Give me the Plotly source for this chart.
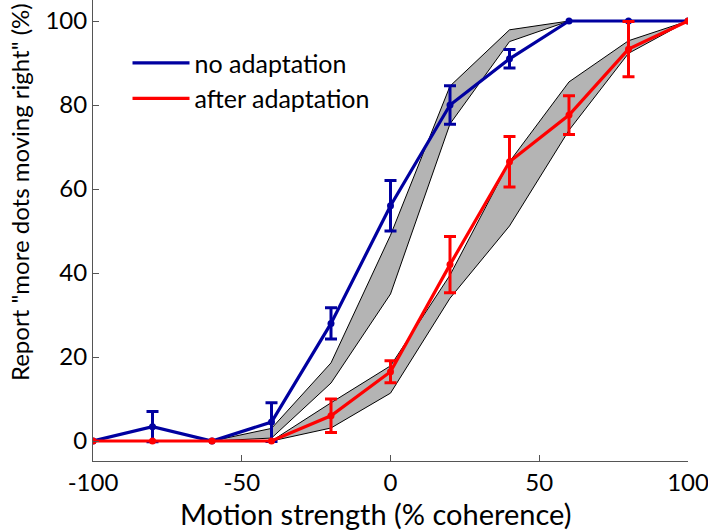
import plotly.graph_objects as go

# ---- data ----
coherence = [-100, -80, -60, -40, -20, 0, 20, 40, 60, 80, 100]

no_adapt = [0, 3.4, 0, 4.5, 28, 56, 80, 91, 100, 100, 100]
no_adapt_err = [0, 3.6, 0, 4.6, 3.7, 6.0, 4.6, 2.2, 0, 0, 0]

after_adapt = [0, 0, 0, 0, 6, 16.5, 42, 66.5, 77.6, 93.3, 100]
after_adapt_err = [0, 0, 0, 0, 4.0, 2.6, 6.7, 6.0, 4.6, 6.6, 0]

band1_upper = [0, 0, 0, 3.0, 18.6, 49, 84.5, 97.9, 100, 100, 100]
band1_lower = [0, 0, 0, 0.7, 13.8, 35, 75.5, 95.1, 100, 100, 100]

band2_upper = [0, 0, 0, 0, 9.1, 17.9, 39.5, 66.5, 85.5, 95.3, 100]
band2_lower = [0, 0, 0, 0, 3.1, 11.4, 34.0, 51.2, 74.0, 92.3, 100]

x_ticks = [-100, -50, 0, 50, 100]
x_tick_text = ["-100", "-50", "0", "50", "100"]
y_ticks = [0, 20, 40, 60, 80, 100]
y_tick_text = ["0", "20", "40", "60", "80", "100"]

BLUE = "#0000A0"
RED = "#FF0000"
GRAY = "#B4B4B4"
FONT = "Lato"

fig = go.Figure()

for up, lo in [(band1_upper, band1_lower), (band2_upper, band2_lower)]:
    fig.add_trace(go.Scatter(
        x=coherence + coherence[::-1], y=up + lo[::-1],
        fill="toself", fillcolor=GRAY, mode="lines",
        line=dict(color="black", width=1), showlegend=False, hoverinfo="skip"))

for name, ys, errs, col in [("no adaptation", no_adapt, no_adapt_err, BLUE),
                            ("after adaptation", after_adapt, after_adapt_err, RED)]:
    fig.add_trace(go.Scatter(x=coherence, y=ys, mode="lines", name=name,
                             line=dict(color=col, width=3.2)))
    fig.add_trace(go.Scatter(x=coherence, y=ys, mode="markers", showlegend=False,
                             marker=dict(color=col, size=7)))
    ex = [c for c, e in zip(coherence, errs) if e > 0]
    ey = [v for v, e in zip(ys, errs) if e > 0]
    ee = [e for e in errs if e > 0]
    fig.add_trace(go.Scatter(x=ex, y=ey, mode="markers", showlegend=False,
                             marker=dict(color=col, size=1),
                             error_y=dict(type="data", array=ee, visible=True,
                                          color=col, thickness=3, width=6)))

axis_common = dict(showgrid=False, zeroline=False, showline=True, linecolor="#555555",
                   linewidth=1, ticks="inside", ticklen=6, tickcolor="#555555",
                   automargin=False, ticklabeloverflow="allow",
                   tickfont=dict(family=FONT, size=24, color="black"))

fig.update_layout(
    width=708, height=531,
    margin=dict(l=93, r=20, t=0, b=70, autoexpand=False),
    plot_bgcolor="white", paper_bgcolor="white",
    xaxis=dict(range=[-100, 100], tickvals=x_ticks, ticktext=x_tick_text, **axis_common),
    yaxis=dict(range=[-4.76, 105], tickvals=y_ticks, ticktext=y_tick_text, **axis_common),
    legend=dict(x=0.058, y=0.913, xanchor="left", yanchor="top",
                font=dict(family=FONT, size=25, color="black"),
                bgcolor="rgba(0,0,0,0)", itemwidth=57, tracegroupgap=0),
    annotations=[
        dict(text="Motion strength (% coherence)", xref="paper", yref="paper",
             x=0.4756, y=-0.113, xanchor="center", yanchor="middle", showarrow=False,
             font=dict(family=FONT, size=29, color="black")),
        dict(text='Report "more dots moving right" (%)', xref="paper", yref="paper",
             x=-0.1244, y=0.169, xanchor="center", yanchor="bottom", showarrow=False,
             textangle=-90, font=dict(family=FONT, size=24, color="black")),
    ],
)

fig.write_html("out.html", config={"displayModeBar": False},
               post_script="document.body.style.margin='0';document.body.style.overflow='hidden';")
